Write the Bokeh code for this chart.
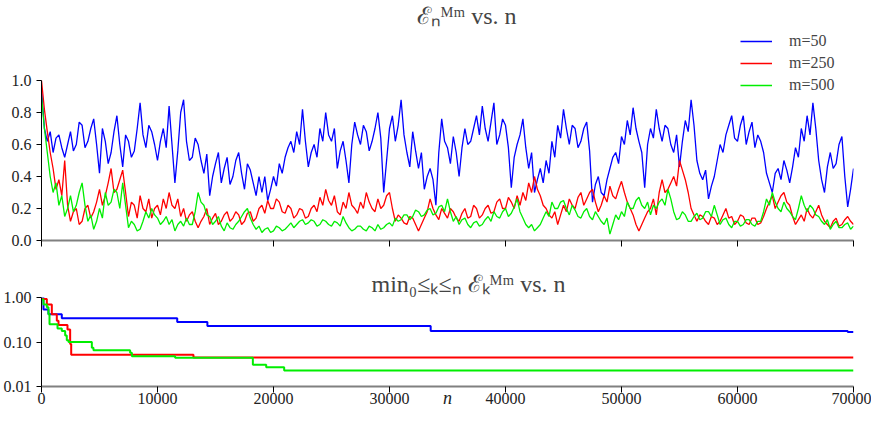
from bokeh.plotting import figure
from bokeh.layouts import column
from bokeh.models import Range1d, FixedTicker, PrintfTickFormatter, Legend, LegendItem
from bokeh.embed import file_html
from bokeh.resources import INLINE

# sample positions of the error curves (every 250 iterations)
n = list(range(0, 70001, 250))

err_m50 = [0.95, 0.7, 0.62, 0.68, 0.55, 0.64, 0.66, 0.58, 0.52, 0.6,
           0.68, 0.56, 0.6, 0.74, 0.72, 0.58, 0.62, 0.7, 0.76, 0.6,
           0.42, 0.7, 0.62, 0.48, 0.55, 0.68, 0.78, 0.6, 0.46, 0.66,
           0.62, 0.52, 0.56, 0.7, 0.86, 0.66, 0.58, 0.72, 0.68, 0.6,
           0.5, 0.62, 0.7, 0.58, 0.84, 0.6, 0.36, 0.56, 0.8, 0.88,
           0.62, 0.5, 0.52, 0.64, 0.6, 0.5, 0.42, 0.54, 0.28, 0.4,
           0.48, 0.55, 0.36, 0.45, 0.52, 0.35, 0.4, 0.5, 0.55, 0.42,
           0.32, 0.48, 0.44, 0.36, 0.28, 0.4, 0.3, 0.4, 0.25, 0.32,
           0.4, 0.34, 0.48, 0.42, 0.52, 0.58, 0.62, 0.55, 0.68, 0.6,
           0.82, 0.62, 0.46, 0.55, 0.6, 0.52, 0.7, 0.62, 0.8, 0.66,
           0.62, 0.7, 0.45, 0.56, 0.62, 0.5, 0.36, 0.6, 0.74, 0.66,
           0.6, 0.72, 0.68, 0.56, 0.62, 0.7, 0.8, 0.64, 0.3, 0.5,
           0.7, 0.78, 0.62, 0.72, 0.88, 0.66, 0.55, 0.46, 0.68, 0.56,
           0.45, 0.55, 0.32, 0.4, 0.45, 0.38, 0.22, 0.55, 0.76, 0.62,
           0.58, 0.48, 0.65, 0.55, 0.4, 0.58, 0.7, 0.6, 0.62, 0.7,
           0.78, 0.66, 0.84, 0.7, 0.62, 0.74, 0.86, 0.6, 0.66, 0.76,
           0.72, 0.58, 0.33, 0.52, 0.6, 0.66, 0.76, 0.58, 0.45, 0.55,
           0.3, 0.38, 0.45, 0.36, 0.5, 0.42, 0.62, 0.52, 0.72, 0.64,
           0.82, 0.7, 0.6, 0.72, 0.7, 0.58, 0.62, 0.7, 0.74, 0.56,
           0.24, 0.35, 0.4, 0.3, 0.28, 0.38, 0.45, 0.52, 0.55, 0.48,
           0.65, 0.6, 0.75, 0.66, 0.83, 0.7, 0.62, 0.55, 0.33, 0.6,
           0.7, 0.64, 0.82, 0.7, 0.62, 0.72, 0.7, 0.6, 0.55, 0.66,
           0.46, 0.62, 0.75, 0.68, 0.88, 0.72, 0.5, 0.42, 0.38, 0.44,
           0.26, 0.34, 0.4, 0.5, 0.6, 0.55, 0.66, 0.72, 0.78, 0.64,
           0.62, 0.72, 0.78, 0.6, 0.68, 0.74, 0.58, 0.66, 0.62, 0.55,
           0.42, 0.36, 0.3, 0.42, 0.45, 0.38, 0.5, 0.44, 0.36, 0.46,
           0.58, 0.52, 0.7, 0.62, 0.78, 0.66, 0.86, 0.7, 0.5, 0.38,
           0.3, 0.46, 0.55, 0.45, 0.48, 0.6, 0.65, 0.4, 0.21, 0.32,
           0.45]

err_m250 = [1.0, 0.82, 0.68, 0.55, 0.45, 0.32, 0.38, 0.28, 0.5, 0.22,
            0.12, 0.18, 0.2, 0.1, 0.12, 0.2, 0.22, 0.14, 0.18, 0.24,
            0.32, 0.22, 0.28, 0.36, 0.45, 0.3, 0.32, 0.38, 0.44, 0.3,
            0.15, 0.24, 0.22, 0.14, 0.28, 0.2, 0.18, 0.26, 0.14, 0.2,
            0.22, 0.16, 0.26, 0.2, 0.3, 0.22, 0.2, 0.26, 0.15, 0.2,
            0.12, 0.16, 0.18, 0.12, 0.08, 0.12, 0.15, 0.2, 0.1, 0.14,
            0.17, 0.1, 0.12, 0.16, 0.18, 0.12, 0.14, 0.18, 0.16, 0.1,
            0.12, 0.17, 0.18, 0.12, 0.14, 0.2, 0.22, 0.17, 0.25, 0.2,
            0.2, 0.26, 0.24, 0.18, 0.17, 0.22, 0.2, 0.14, 0.16, 0.2,
            0.19, 0.14, 0.15, 0.2, 0.22, 0.18, 0.27, 0.22, 0.32, 0.25,
            0.22, 0.28, 0.18, 0.16, 0.24, 0.2, 0.3, 0.22, 0.2, 0.17,
            0.24, 0.2, 0.3, 0.24, 0.2, 0.18, 0.26, 0.2, 0.22, 0.28,
            0.3, 0.2, 0.12, 0.16, 0.14, 0.11, 0.1, 0.15, 0.14, 0.1,
            0.06, 0.1, 0.14, 0.18, 0.26, 0.2, 0.16, 0.13, 0.2, 0.17,
            0.14, 0.2, 0.18, 0.14, 0.12, 0.17, 0.2, 0.14, 0.15, 0.22,
            0.2, 0.14, 0.16, 0.2, 0.22, 0.17, 0.18, 0.24, 0.26, 0.2,
            0.2, 0.27, 0.24, 0.2, 0.28, 0.22, 0.3, 0.25, 0.36, 0.3,
            0.4, 0.32, 0.28, 0.22, 0.2, 0.16, 0.14, 0.18, 0.1, 0.16,
            0.22, 0.18, 0.26, 0.22, 0.2, 0.27, 0.3, 0.22, 0.26, 0.3,
            0.32, 0.24, 0.18, 0.22, 0.28, 0.24, 0.34, 0.28, 0.26, 0.32,
            0.37, 0.3, 0.24, 0.2, 0.16, 0.1, 0.06, 0.1, 0.14, 0.18,
            0.2, 0.26, 0.16, 0.3, 0.38, 0.3, 0.32, 0.36, 0.4, 0.34,
            0.5, 0.44, 0.38, 0.3, 0.2, 0.16, 0.12, 0.16, 0.15, 0.12,
            0.1, 0.15, 0.14, 0.1, 0.12, 0.16, 0.2, 0.14, 0.15, 0.1,
            0.12, 0.16, 0.15, 0.11, 0.1, 0.14, 0.14, 0.1, 0.11, 0.15,
            0.2, 0.24, 0.28, 0.2, 0.24, 0.28, 0.3, 0.24, 0.22, 0.15,
            0.1, 0.13, 0.16, 0.12, 0.2, 0.16, 0.14, 0.18, 0.22, 0.16,
            0.12, 0.1, 0.08, 0.12, 0.14, 0.09, 0.1, 0.13, 0.15, 0.12,
            0.1]

err_m500 = [0.9, 0.7, 0.55, 0.4, 0.3, 0.36, 0.22, 0.28, 0.15, 0.2,
            0.28, 0.18, 0.22, 0.3, 0.36, 0.22, 0.12, 0.16, 0.07, 0.12,
            0.2, 0.14, 0.3, 0.22, 0.24, 0.32, 0.3, 0.2, 0.36, 0.22,
            0.08, 0.12, 0.1, 0.06, 0.07, 0.12, 0.18, 0.14, 0.2, 0.16,
            0.14, 0.1, 0.12, 0.15, 0.1, 0.13, 0.06, 0.1, 0.12, 0.09,
            0.14, 0.1, 0.1, 0.18, 0.3, 0.24, 0.22, 0.16, 0.15, 0.1,
            0.12, 0.15, 0.09, 0.06, 0.11, 0.08, 0.07, 0.1, 0.12, 0.15,
            0.18, 0.2, 0.14, 0.1, 0.07, 0.09, 0.05, 0.07, 0.08, 0.05,
            0.06, 0.09, 0.08, 0.06, 0.07, 0.09, 0.11, 0.08, 0.1, 0.12,
            0.13, 0.1, 0.11, 0.13, 0.12, 0.09, 0.1, 0.13, 0.12, 0.1,
            0.09, 0.12, 0.11, 0.09, 0.15, 0.11, 0.08, 0.06, 0.07, 0.09,
            0.09, 0.07, 0.06, 0.09, 0.08, 0.06, 0.1, 0.07, 0.08, 0.1,
            0.11, 0.09, 0.14, 0.12, 0.13, 0.16, 0.16, 0.13, 0.15, 0.19,
            0.18, 0.15, 0.16, 0.19, 0.2, 0.16, 0.17, 0.21, 0.22, 0.18,
            0.26, 0.18, 0.12, 0.15, 0.1, 0.13, 0.14, 0.1, 0.08, 0.11,
            0.12, 0.09, 0.1, 0.13, 0.15, 0.12, 0.18, 0.15, 0.14, 0.18,
            0.2, 0.15, 0.17, 0.21, 0.26, 0.18, 0.14, 0.1, 0.08, 0.1,
            0.06, 0.08, 0.1, 0.14, 0.18, 0.15, 0.24, 0.2, 0.2, 0.24,
            0.25, 0.2, 0.16, 0.22, 0.19, 0.15, 0.14, 0.18, 0.2, 0.15,
            0.13, 0.18, 0.15, 0.12, 0.1, 0.14, 0.04, 0.1, 0.16, 0.13,
            0.18, 0.15, 0.24, 0.2, 0.2, 0.25, 0.27, 0.22, 0.2, 0.24,
            0.16, 0.22, 0.2, 0.24, 0.26, 0.22, 0.32, 0.26, 0.18, 0.13,
            0.14, 0.18, 0.16, 0.12, 0.12, 0.15, 0.17, 0.13, 0.14, 0.18,
            0.18, 0.15, 0.22, 0.16, 0.1, 0.13, 0.14, 0.1, 0.08, 0.12,
            0.12, 0.09, 0.1, 0.13, 0.13, 0.1, 0.09, 0.12, 0.12, 0.18,
            0.26, 0.22, 0.3, 0.24, 0.2, 0.18, 0.24, 0.2, 0.18, 0.15,
            0.13, 0.2, 0.28, 0.22, 0.18, 0.22, 0.2, 0.16, 0.15, 0.12,
            0.1, 0.13, 0.07, 0.1, 0.12, 0.08, 0.08, 0.1, 0.11, 0.07,
            0.09]

# running minimum, as step change points
min_n_m50 = [0, 170, 600, 1750, 11700, 14300, 33550, 69500, 70000]
min_m50 = [1.0, 0.54, 0.42, 0.34, 0.28, 0.228, 0.176, 0.168, 0.168]

min_n_m250 = [0, 460, 890, 1320, 1465, 2240, 2470, 2560, 13100, 70000]
min_m250 = [0.92, 0.7, 0.42, 0.3, 0.24, 0.19, 0.09, 0.052, 0.045, 0.045]

min_n_m500 = [0, 170, 460, 600, 690, 1380, 1750, 2040, 2180, 2330, 4340,
              4480, 7640, 7790, 11520, 18220, 19370, 20920, 70000]
min_m500 = [0.9, 0.7, 0.6, 0.42, 0.25, 0.2, 0.176, 0.14, 0.11, 0.1, 0.074,
            0.065, 0.057, 0.048, 0.044, 0.031, 0.027, 0.023, 0.023]

labels = ["m=50", "m=250", "m=500"]
colors = ["#0000ff", "#ff0000", "#00ee00"]
x_ticks = [0, 10000, 20000, 30000, 40000, 50000, 60000, 70000]
y_ticks_top = [0.0, 0.2, 0.4, 0.6, 0.8, 1.0]
y_ticks_bottom = [0.01, 0.1, 1.0]

FONT = "Liberation Serif"


def style_axes(p, title_offset):
    p.grid.visible = False
    p.outline_line_color = None
    p.xaxis.ticker = FixedTicker(ticks=x_ticks)
    p.xaxis.axis_line_color = "#808080"
    p.xaxis.axis_line_width = 2
    p.xaxis.major_tick_out = 6
    p.xaxis.major_tick_in = 0
    p.xaxis.minor_tick_line_color = None
    p.yaxis.axis_line_color = "black"
    p.yaxis.major_tick_out = 5
    p.yaxis.major_tick_in = 0
    p.yaxis.minor_tick_line_color = None
    for ax in (p.xaxis, p.yaxis):
        ax.major_label_text_font = FONT
        ax.major_label_text_font_size = "16px"
        ax.major_label_text_color = "#222222"
    p.title.text_font = FONT
    p.title.text_font_size = "24px"
    p.title.text_font_style = "normal"
    p.title.align = "left"
    p.title.offset = title_offset


# top panel: error per iteration
p1 = figure(frame_width=812, frame_height=212,
            x_range=Range1d(0, 70000), y_range=Range1d(0, 1.325),
            output_backend="svg", toolbar_location=None,
            min_border_left=40, min_border_right=18,
            min_border_top=20, min_border_bottom=10,
            title="ℰₙᴹᵐ vs. n")
style_axes(p1, 375)
p1.title.standoff = 0
p1.yaxis.bounds = (0, 1.0)
p1.yaxis.ticker = FixedTicker(ticks=y_ticks_top)
p1.yaxis.formatter = PrintfTickFormatter(format="%.1f")
p1.xaxis.major_label_text_color = None
p1.xaxis.major_label_standoff = 0

rs = []
for ys, c in zip([err_m50, err_m250, err_m500], colors):
    rs.append(p1.line(n, ys, line_color=c, line_width=1.3))

legend = Legend(items=[LegendItem(label=lab, renderers=[r]) for lab, r in zip(labels, rs)],
                location=(699, 145))
legend.background_fill_alpha = 0
legend.border_line_color = None
legend.padding = 0
legend.margin = 0
legend.spacing = 2
legend.glyph_width = 32
legend.glyph_height = 20
legend.label_height = 20
legend.label_standoff = 17
legend.label_text_font = FONT
legend.label_text_font_size = "16px"
p1.add_layout(legend)

# bottom panel: running minimum on a log scale
p2 = figure(frame_width=812, frame_height=89,
            x_range=Range1d(0, 70000), y_range=Range1d(0.01, 1.0),
            y_axis_type="log",
            output_backend="svg", toolbar_location=None,
            min_border_left=40, min_border_right=18,
            min_border_top=47, min_border_bottom=5,
            title="min₀≤ₖ≤ₙ ℰₖᴹᵐ vs. n")
style_axes(p2, 330)
p2.title.standoff = 2
p2.yaxis.ticker = FixedTicker(ticks=y_ticks_bottom)
p2.yaxis.formatter = PrintfTickFormatter(format="%.2f")
p2.xaxis.major_label_standoff = 0
# the axis name sits up between the 30000 and 40000 labels
p2.xaxis.axis_label = "n"
p2.xaxis.axis_label_text_font = FONT
p2.xaxis.axis_label_text_font_style = "italic"
p2.xaxis.axis_label_text_font_size = "18px"
p2.xaxis.axis_label_text_color = "#222222"
p2.xaxis.axis_label_standoff = -19

for xs, ys, c in zip([min_n_m50, min_n_m250, min_n_m500],
                     [min_m50, min_m250, min_m500], colors):
    p2.step(xs, ys, mode="after", line_color=c, line_width=2)

layout = column(p1, p2, spacing=0)
open("out.html", "w").write(file_html(layout, INLINE))
